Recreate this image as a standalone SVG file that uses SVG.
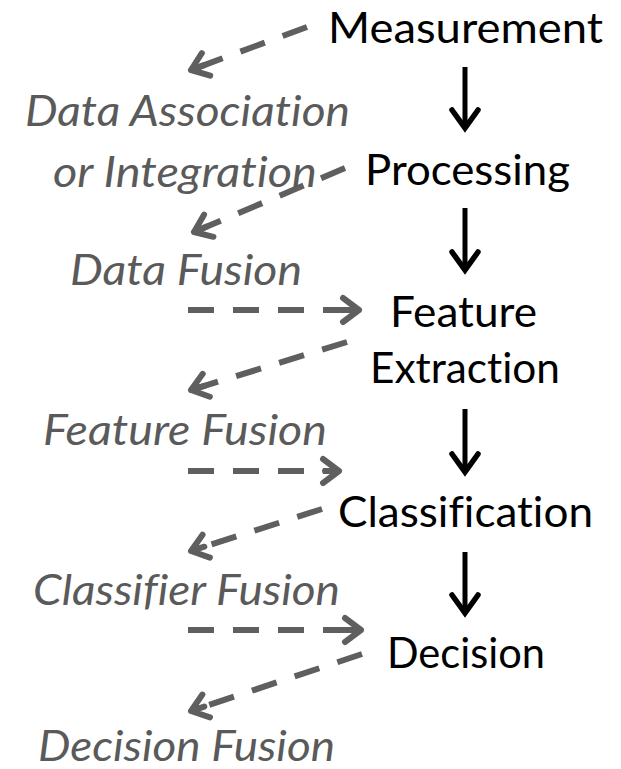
<svg xmlns="http://www.w3.org/2000/svg" width="621" height="769" viewBox="0 0 621 769">
<style>
.step{font-family:Lato,"Open Sans","DejaVu Sans",sans-serif;font-size:42px;fill:#000;font-variant-ligatures:none}
.fus{font-family:Lato,"Open Sans","DejaVu Sans",sans-serif;font-size:42px;font-style:italic;fill:#5a5a5a;font-variant-ligatures:none}
.dash{fill:none;stroke:#5f5f5f;stroke-width:6;stroke-dasharray:26 19;marker-end:url(#gh)}
.solid{fill:none;stroke:#000;stroke-width:5;marker-end:url(#bh)}
</style>
<defs>
<marker id="gh" markerUnits="userSpaceOnUse" viewBox="-24 -18 30 36" refX="0" refY="0" markerWidth="30" markerHeight="36" orient="auto" overflow="visible">
<path d="M-16,-12 L0,0 L-16,12 M0,0 L-14,0" fill="none" stroke="#5f5f5f" stroke-width="6" stroke-linecap="round" stroke-linejoin="round"/>
</marker>
<marker id="bh" markerUnits="userSpaceOnUse" viewBox="-24 -18 30 36" refX="0" refY="0" markerWidth="30" markerHeight="36" orient="auto" overflow="visible">
<path d="M-18,-13 L0,0 L-18,13" fill="none" stroke="#000" stroke-width="5.5" stroke-linecap="round" stroke-linejoin="miter"/>
</marker>
</defs>
<g id="connectors">
<path class="solid" d="M465,67 L465,128"/>
<path class="solid" d="M465,208 L465,270"/>
<path class="solid" d="M465,409 L465,472"/>
<path class="solid" d="M465,552 L465,613"/>
<path class="dash" d="M307,27 L191,70"/>
<path class="dash" d="M345,168 L194,232"/>
<path class="dash" d="M188,310 L359,310"/>
<path class="dash" d="M347,342 L191,390"/>
<path class="dash" d="M188,471 L339,471"/>
<path class="dash" d="M322,509 L191,551"/>
<path class="dash" d="M188,630 L361,630"/>
<path class="dash" d="M362,654 L191,711"/>
</g>
<g id="measurement"><text class="step" x="328" y="43" textLength="275" lengthAdjust="spacingAndGlyphs">Measurement</text></g>
<g id="processing"><text class="step" x="365" y="185" textLength="205" lengthAdjust="spacingAndGlyphs">Processing</text></g>
<g id="feature-extraction"><text class="step" x="390" y="327" textLength="147" lengthAdjust="spacingAndGlyphs">Feature</text><text class="step" x="370" y="383" textLength="190" lengthAdjust="spacingAndGlyphs">Extraction</text></g>
<g id="classification"><text class="step" x="338" y="527" textLength="255" lengthAdjust="spacingAndGlyphs">Classification</text></g>
<g id="decision"><text class="step" x="387" y="668" textLength="158" lengthAdjust="spacingAndGlyphs">Decision</text></g>
<g id="data-association"><text class="fus" x="25" y="126" textLength="325" lengthAdjust="spacingAndGlyphs">Data Association</text><text class="fus" x="53" y="187" textLength="264" lengthAdjust="spacingAndGlyphs">or Integration</text></g>
<g id="data-fusion"><text class="fus" x="70" y="285" textLength="232" lengthAdjust="spacingAndGlyphs">Data Fusion</text></g>
<g id="feature-fusion"><text class="fus" x="43" y="445" textLength="284" lengthAdjust="spacingAndGlyphs">Feature Fusion</text></g>
<g id="classifier-fusion"><text class="fus" x="33" y="605" textLength="307" lengthAdjust="spacingAndGlyphs">Classifier Fusion</text></g>
<g id="decision-fusion"><text class="fus" x="38" y="761" textLength="297" lengthAdjust="spacingAndGlyphs">Decision Fusion</text></g>
</svg>
